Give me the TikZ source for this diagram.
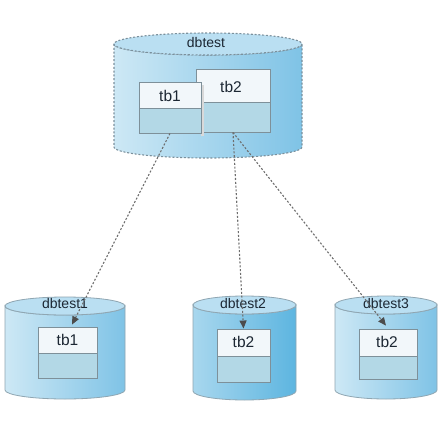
\documentclass[tikz,border=0pt]{standalone}
\usepackage{fontspec}
\setmainfont{Liberation Sans}
\usetikzlibrary{arrows.meta}
\definecolor{cylA}{HTML}{CDE8F5}
\definecolor{cylB}{HTML}{7FC3E6}
\definecolor{cylTopA}{HTML}{BADFF2}
\definecolor{cylC}{HTML}{A8D7EE}
\definecolor{cylD}{HTML}{5DB5E0}
\definecolor{boxHead}{HTML}{F2F7FA}
\definecolor{boxBody}{HTML}{B3D8E6}
\definecolor{edge}{HTML}{7E9099}
\definecolor{cyledge}{HTML}{8FA6B2}
\definecolor{seledge}{HTML}{7B909C}
\definecolor{link}{HTML}{6E6E6E}
\definecolor{txt}{HTML}{1C2733}
\tikzset{
  lbl/.style={text=txt, inner sep=0pt, font=\fontsize{14}{16}\selectfont},
  tlbl/.style={text=txt, inner sep=0pt, font=\fontsize{15.5}{17}\selectfont},
  boxframe/.style={draw=edge, line width=0.9pt, inner sep=0pt},
  linkline/.style={draw=link, line width=1.1pt, dash pattern=on 2pt off 1.8pt,
    -{Triangle[length=8pt,width=7pt,color=black!70]}},
  selcyl/.style={draw=seledge, line width=1.1pt, dash pattern=on 2pt off 1.8pt},
  plaincyl/.style={draw=cyledge, line width=0.8pt}
}
% cylinder: #1 cx, #2 rx, #3 top cy, #4 bottom cy, #5 ry, #6 border style, #7 left col, #8 right col, #9 top col
\newcommand\mycyl[9]{%
  \path[#6, left color=#7, right color=#8]
    ({#1-#2},#3) -- ({#1-#2},#4)
    arc[start angle=180, end angle=0, x radius=#2, y radius=#5]
    -- ({#1+#2},#3)
    arc[start angle=0, end angle=180, x radius=#2, y radius=#5] -- cycle;
  \path[#6, fill=#9] (#1,#3) ellipse [x radius=#2, y radius=#5];
}
% table box: #1 name, #2 x1, #3 y1, #4 x2, #5 y2, #6 divider y, #7 text, #8 text x, #9 text y
\newcommand\tbox[9]{%
  \fill[boxBody] (#2,#3) rectangle (#4,#5);
  \fill[boxHead] (#2,#3) rectangle (#4,#6);
  \draw[edge, line width=0.8pt] (#2,#6) -- (#4,#6);
  \node[boxframe, minimum width={#4-#2}, minimum height={#5-#3}] (#1) at ({(#2+#4)/2},{(#3+#5)/2}) {};
  \node[tlbl] (#1t) at (#8,#9) {#7};
}
\begin{document}
\begin{tikzpicture}[x=1pt,y=-1pt]
\fill[white] (0,0) rectangle (444,444);
\useasboundingbox (0,0) rectangle (444,444);
% top database
\mycyl{208}{94}{44}{147}{11}{selcyl}{cylA}{cylB}{cylTopA}
\node[lbl] (top) at (206,42) {dbtest};
\tbox{t2}{196}{69}{270}{132}{102}{tb2}{231}{87}
\fill[black!15] (201,85) rectangle (204,136);
\tbox{t1}{139}{82}{201}{133}{108}{tb1}{170}{96}
% bottom databases
\mycyl{65}{60}{306}{390}{9}{plaincyl}{cylA}{cylB}{cylTopA}
\node[lbl] (d1) at (65,303) {dbtest1};
\tbox{b1}{38}{327}{97}{378}{353}{tb1}{67.5}{340}
\mycyl{244.5}{51.5}{305}{391}{9}{plaincyl}{cylC}{cylD}{cylTopA}
\node[lbl] (d2) at (243,303) {dbtest2};
\tbox{b2}{217}{329}{270}{382}{356}{tb2}{243.5}{342}
\mycyl{386}{51}{305}{390}{9}{plaincyl}{cylA}{cylB}{cylTopA}
\node[lbl] (d3) at (386,303) {dbtest3};
\tbox{b3}{359}{329}{417}{379}{356}{tb2}{387}{342}
% links
\draw[linkline] (t1.south) -- ([xshift=4.5pt,yshift=2pt]b1.north);
\draw[linkline] (t2.south) -- (b2.north);
\draw[linkline] (t2.south) -- ([xshift=-2pt,yshift=3pt]b3.north);
\end{tikzpicture}
\end{document}
